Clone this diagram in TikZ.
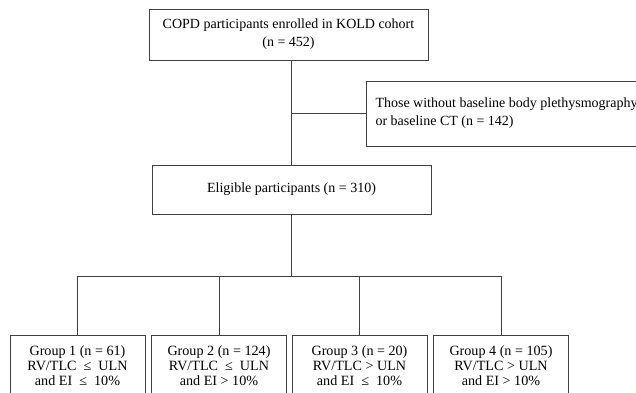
\documentclass[tikz,border=0pt]{standalone}
\usepackage{fontspec}
\setmainfont{Liberation Serif}
\definecolor{linegray}{RGB}{64,64,64}
\tikzset{every picture/.style={line width=0.75pt}}
\tikzset{
  flowbox/.style={draw=linegray, inner sep=0pt, align=center, font=\fontsize{10.5}{13.5}\selectfont},
  groupbox/.style={draw=linegray, inner sep=0pt, align=center, minimum width=101.25pt, minimum height=46.5pt, font=\fontsize{10.6}{11.25}\selectfont},
  link/.style={draw=linegray}
}
\begin{document}
\begin{tikzpicture}[x=0.75pt,y=0.75pt,yscale=-1,xscale=1]
\useasboundingbox (0,0) rectangle (636,393);
\clip (0,0) rectangle (636,393);

% Shape: Rectangle
\node [flowbox, minimum width=209.25pt, minimum height=38.25pt] (cohort) at (288.5,34.5) {COPD participants enrolled in KOLD cohort\\(n = 452)};
% Shape: Rectangle
\node [flowbox, anchor=west, inner xsep=6.75pt, minimum width=209.25pt, minimum height=48.75pt, align=left] (excluded) at (366,113.5) {Those without baseline body plethysmography\\or baseline CT (n = 142)};
% Shape: Rectangle
\node [flowbox, minimum width=209.25pt, minimum height=36.75pt] (eligible) at (291.5,189.5) {Eligible participants (n = 310)};

% Shape: Rectangle
\node [groupbox] (group1) at (77.5,366) {Group 1 (n = 61)\\RV/TLC \ ≤ \ ULN\\and EI \ ≤ \ 10\%};
% Shape: Rectangle
\node [groupbox] (group2) at (219,366) {Group 2 (n = 124)\\RV/TLC \ ≤ \ ULN\\and EI > 10\%};
% Shape: Rectangle
\node [groupbox] (group3) at (359.5,366) {Group 3 (n = 20)\\RV/TLC > ULN\\and EI \ ≤ \ 10\%};
% Shape: Rectangle
\node [groupbox] (group4) at (501,366) {Group 4 (n = 105)\\RV/TLC > ULN\\and EI > 10\%};

% Connection
\draw [link] (cohort.south -| eligible.north) -- (eligible.north);
% Connection
\draw [link] (excluded.west) -- (excluded.west -| eligible.north);
% Connection
\draw [link] (eligible.south) -- ++(0,62) coordinate (split);
\draw [link] (group1.north) |- (split) -| (group4.north);
\draw [link] (group2.north) -- (group2.north |- split);
\draw [link] (group3.north) -- (group3.north |- split);

\end{tikzpicture}
\end{document}
